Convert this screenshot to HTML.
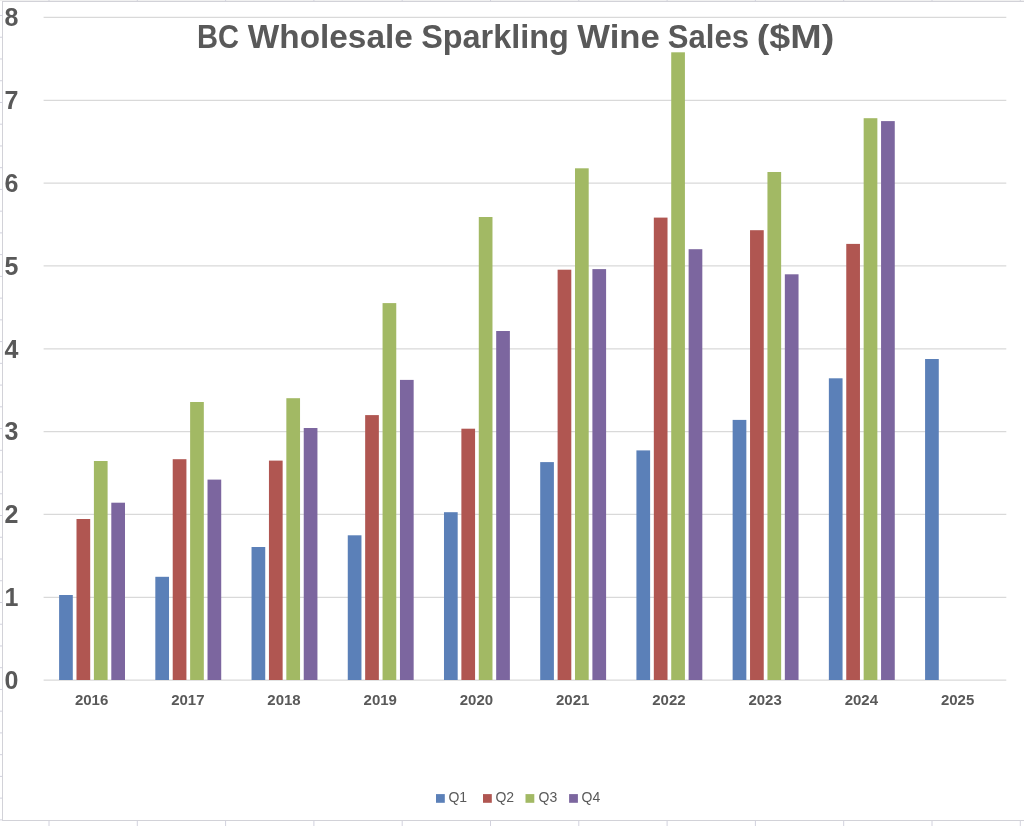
<!DOCTYPE html>
<html lang="en">
<head>
<meta charset="utf-8">
<title>BC Wholesale Sparkling Wine Sales ($M)</title>
<style>
html,body{margin:0;padding:0;background:#fff;}
body{width:1024px;height:826px;overflow:hidden;}
svg{display:block;}
text{font-family:"Liberation Sans",sans-serif;fill:#595959;}
.b{font-weight:bold;}
</style>
</head>
<body>
<svg width="1024" height="826" viewBox="0 0 1024 826">
<rect x="0" y="0" width="1024" height="826" fill="#ffffff"/>

<rect x="0" y="0" width="1024" height="1" fill="#f0f0f0"/>
<g stroke="#d2d2de" stroke-width="1" fill="none">
<line x1="0" y1="15.50" x2="2.5" y2="15.50"/>
<line x1="0" y1="37.24" x2="2.5" y2="37.24"/>
<line x1="0" y1="58.98" x2="2.5" y2="58.98"/>
<line x1="0" y1="80.72" x2="2.5" y2="80.72"/>
<line x1="0" y1="102.46" x2="2.5" y2="102.46"/>
<line x1="0" y1="124.20" x2="2.5" y2="124.20"/>
<line x1="0" y1="145.94" x2="2.5" y2="145.94"/>
<line x1="0" y1="167.68" x2="2.5" y2="167.68"/>
<line x1="0" y1="189.42" x2="2.5" y2="189.42"/>
<line x1="0" y1="211.16" x2="2.5" y2="211.16"/>
<line x1="0" y1="232.90" x2="2.5" y2="232.90"/>
<line x1="0" y1="254.64" x2="2.5" y2="254.64"/>
<line x1="0" y1="276.38" x2="2.5" y2="276.38"/>
<line x1="0" y1="298.12" x2="2.5" y2="298.12"/>
<line x1="0" y1="319.86" x2="2.5" y2="319.86"/>
<line x1="0" y1="341.60" x2="2.5" y2="341.60"/>
<line x1="0" y1="363.34" x2="2.5" y2="363.34"/>
<line x1="0" y1="385.08" x2="2.5" y2="385.08"/>
<line x1="0" y1="406.82" x2="2.5" y2="406.82"/>
<line x1="0" y1="428.56" x2="2.5" y2="428.56"/>
<line x1="0" y1="450.30" x2="2.5" y2="450.30"/>
<line x1="0" y1="472.04" x2="2.5" y2="472.04"/>
<line x1="0" y1="493.78" x2="2.5" y2="493.78"/>
<line x1="0" y1="515.52" x2="2.5" y2="515.52"/>
<line x1="0" y1="537.26" x2="2.5" y2="537.26"/>
<line x1="0" y1="559.00" x2="2.5" y2="559.00"/>
<line x1="0" y1="580.74" x2="2.5" y2="580.74"/>
<line x1="0" y1="602.48" x2="2.5" y2="602.48"/>
<line x1="0" y1="624.22" x2="2.5" y2="624.22"/>
<line x1="0" y1="645.96" x2="2.5" y2="645.96"/>
<line x1="0" y1="667.70" x2="2.5" y2="667.70"/>
<line x1="0" y1="689.44" x2="2.5" y2="689.44"/>
<line x1="0" y1="711.18" x2="2.5" y2="711.18"/>
<line x1="0" y1="732.92" x2="2.5" y2="732.92"/>
<line x1="0" y1="754.66" x2="2.5" y2="754.66"/>
<line x1="0" y1="776.40" x2="2.5" y2="776.40"/>
<line x1="0" y1="798.14" x2="2.5" y2="798.14"/>
<line x1="0" y1="819.88" x2="2.5" y2="819.88"/>
<line x1="49.00" y1="820.5" x2="49.00" y2="826"/>
<line x1="49.00" y1="0" x2="49.00" y2="1.5"/>
<line x1="137.30" y1="820.5" x2="137.30" y2="826"/>
<line x1="137.30" y1="0" x2="137.30" y2="1.5"/>
<line x1="225.60" y1="820.5" x2="225.60" y2="826"/>
<line x1="225.60" y1="0" x2="225.60" y2="1.5"/>
<line x1="313.90" y1="820.5" x2="313.90" y2="826"/>
<line x1="313.90" y1="0" x2="313.90" y2="1.5"/>
<line x1="402.20" y1="820.5" x2="402.20" y2="826"/>
<line x1="402.20" y1="0" x2="402.20" y2="1.5"/>
<line x1="490.50" y1="820.5" x2="490.50" y2="826"/>
<line x1="490.50" y1="0" x2="490.50" y2="1.5"/>
<line x1="578.80" y1="820.5" x2="578.80" y2="826"/>
<line x1="578.80" y1="0" x2="578.80" y2="1.5"/>
<line x1="667.10" y1="820.5" x2="667.10" y2="826"/>
<line x1="667.10" y1="0" x2="667.10" y2="1.5"/>
<line x1="755.40" y1="820.5" x2="755.40" y2="826"/>
<line x1="755.40" y1="0" x2="755.40" y2="1.5"/>
<line x1="843.70" y1="820.5" x2="843.70" y2="826"/>
<line x1="843.70" y1="0" x2="843.70" y2="1.5"/>
<line x1="932.00" y1="820.5" x2="932.00" y2="826"/>
<line x1="932.00" y1="0" x2="932.00" y2="1.5"/>
<line x1="1020.30" y1="820.5" x2="1020.30" y2="826"/>
<line x1="1020.30" y1="0" x2="1020.30" y2="1.5"/>
</g>
<rect x="2.5" y="1.5" width="1040" height="819" fill="#ffffff" stroke="#d2d2d8" stroke-width="1"/>
<g stroke="#d9d9d9" stroke-width="1.25">
<line x1="43.6" y1="680.15" x2="1006.3" y2="680.15"/>
<line x1="43.6" y1="597.31" x2="1006.3" y2="597.31"/>
<line x1="43.6" y1="514.47" x2="1006.3" y2="514.47"/>
<line x1="43.6" y1="431.63" x2="1006.3" y2="431.63"/>
<line x1="43.6" y1="348.79" x2="1006.3" y2="348.79"/>
<line x1="43.6" y1="265.95" x2="1006.3" y2="265.95"/>
<line x1="43.6" y1="183.11" x2="1006.3" y2="183.11"/>
<line x1="43.6" y1="100.27" x2="1006.3" y2="100.27"/>
<line x1="43.6" y1="17.43" x2="1006.3" y2="17.43"/>
</g>
<g>
<rect x="59.10" y="595.00" width="13.70" height="85.00" fill="#5b80b8"/>
<rect x="76.50" y="519.00" width="13.70" height="161.00" fill="#b05651"/>
<rect x="93.90" y="461.00" width="13.70" height="219.00" fill="#a2b964"/>
<rect x="111.30" y="502.70" width="13.70" height="177.30" fill="#7c669f"/>
</g>
<g>
<rect x="155.32" y="576.80" width="13.70" height="103.20" fill="#5b80b8"/>
<rect x="172.72" y="459.20" width="13.70" height="220.80" fill="#b05651"/>
<rect x="190.12" y="402.00" width="13.70" height="278.00" fill="#a2b964"/>
<rect x="207.52" y="479.60" width="13.70" height="200.40" fill="#7c669f"/>
</g>
<g>
<rect x="251.54" y="547.00" width="13.70" height="133.00" fill="#5b80b8"/>
<rect x="268.94" y="460.60" width="13.70" height="219.40" fill="#b05651"/>
<rect x="286.34" y="398.20" width="13.70" height="281.80" fill="#a2b964"/>
<rect x="303.74" y="428.00" width="13.70" height="252.00" fill="#7c669f"/>
</g>
<g>
<rect x="347.76" y="535.30" width="13.70" height="144.70" fill="#5b80b8"/>
<rect x="365.16" y="415.10" width="13.70" height="264.90" fill="#b05651"/>
<rect x="382.56" y="303.10" width="13.70" height="376.90" fill="#a2b964"/>
<rect x="399.96" y="379.90" width="13.70" height="300.10" fill="#7c669f"/>
</g>
<g>
<rect x="443.98" y="512.20" width="13.70" height="167.80" fill="#5b80b8"/>
<rect x="461.38" y="428.70" width="13.70" height="251.30" fill="#b05651"/>
<rect x="478.78" y="217.00" width="13.70" height="463.00" fill="#a2b964"/>
<rect x="496.18" y="331.00" width="13.70" height="349.00" fill="#7c669f"/>
</g>
<g>
<rect x="540.20" y="462.10" width="13.70" height="217.90" fill="#5b80b8"/>
<rect x="557.60" y="269.70" width="13.70" height="410.30" fill="#b05651"/>
<rect x="575.00" y="168.30" width="13.70" height="511.70" fill="#a2b964"/>
<rect x="592.40" y="269.10" width="13.70" height="410.90" fill="#7c669f"/>
</g>
<g>
<rect x="636.42" y="450.40" width="13.70" height="229.60" fill="#5b80b8"/>
<rect x="653.82" y="217.60" width="13.70" height="462.40" fill="#b05651"/>
<rect x="671.22" y="52.30" width="13.70" height="627.70" fill="#a2b964"/>
<rect x="688.62" y="249.20" width="13.70" height="430.80" fill="#7c669f"/>
</g>
<g>
<rect x="732.64" y="419.90" width="13.70" height="260.10" fill="#5b80b8"/>
<rect x="750.04" y="230.20" width="13.70" height="449.80" fill="#b05651"/>
<rect x="767.44" y="172.00" width="13.70" height="508.00" fill="#a2b964"/>
<rect x="784.84" y="274.30" width="13.70" height="405.70" fill="#7c669f"/>
</g>
<g>
<rect x="828.86" y="378.30" width="13.70" height="301.70" fill="#5b80b8"/>
<rect x="846.26" y="243.90" width="13.70" height="436.10" fill="#b05651"/>
<rect x="863.66" y="118.20" width="13.70" height="561.80" fill="#a2b964"/>
<rect x="881.06" y="121.10" width="13.70" height="558.90" fill="#7c669f"/>
</g>
<g>
<rect x="925.08" y="359.00" width="13.70" height="321.00" fill="#5b80b8"/>
</g>
<text class="b" font-size="34" y="47.5"><tspan x="197.00" textLength="42.02" lengthAdjust="spacingAndGlyphs">BC</tspan> <tspan x="247.86" textLength="164.92" lengthAdjust="spacingAndGlyphs">Wholesale</tspan> <tspan x="421.15" textLength="147.67" lengthAdjust="spacingAndGlyphs">Sparkling</tspan> <tspan x="577.28" textLength="82.52" lengthAdjust="spacingAndGlyphs">Wine</tspan> <tspan x="667.80" textLength="81.21" lengthAdjust="spacingAndGlyphs">Sales</tspan> <tspan x="756.80" textLength="77.47" lengthAdjust="spacingAndGlyphs">($M)</tspan></text>
<text class="b" x="4.6" y="688.90" font-size="25">0</text>
<text class="b" x="4.6" y="606.08" font-size="25">1</text>
<text class="b" x="4.6" y="523.26" font-size="25">2</text>
<text class="b" x="4.6" y="440.44" font-size="25">3</text>
<text class="b" x="4.6" y="357.62" font-size="25">4</text>
<text class="b" x="4.6" y="274.80" font-size="25">5</text>
<text class="b" x="4.6" y="191.98" font-size="25">6</text>
<text class="b" x="4.6" y="109.16" font-size="25">7</text>
<text class="b" x="4.6" y="26.34" font-size="25">8</text>
<text class="b" x="91.60" y="705.1" font-size="15" text-anchor="middle">2016</text>
<text class="b" x="187.82" y="705.1" font-size="15" text-anchor="middle">2017</text>
<text class="b" x="284.04" y="705.1" font-size="15" text-anchor="middle">2018</text>
<text class="b" x="380.26" y="705.1" font-size="15" text-anchor="middle">2019</text>
<text class="b" x="476.48" y="705.1" font-size="15" text-anchor="middle">2020</text>
<text class="b" x="572.70" y="705.1" font-size="15" text-anchor="middle">2021</text>
<text class="b" x="668.92" y="705.1" font-size="15" text-anchor="middle">2022</text>
<text class="b" x="765.14" y="705.1" font-size="15" text-anchor="middle">2023</text>
<text class="b" x="861.36" y="705.1" font-size="15" text-anchor="middle">2024</text>
<text class="b" x="957.58" y="705.1" font-size="15" text-anchor="middle">2025</text>
<rect x="436.0" y="794.1" width="8.8" height="8.7" fill="#5b80b8"/>
<text x="448.4" y="802" font-size="14">Q1</text>
<rect x="483.0" y="794.1" width="8.8" height="8.7" fill="#b05651"/>
<text x="495.4" y="802" font-size="14">Q2</text>
<rect x="525.5" y="794.1" width="8.8" height="8.7" fill="#a2b964"/>
<text x="538.6" y="802" font-size="14">Q3</text>
<rect x="569.1" y="794.1" width="8.8" height="8.7" fill="#7c669f"/>
<text x="581.6" y="802" font-size="14">Q4</text>
</svg>
</body>
</html>
